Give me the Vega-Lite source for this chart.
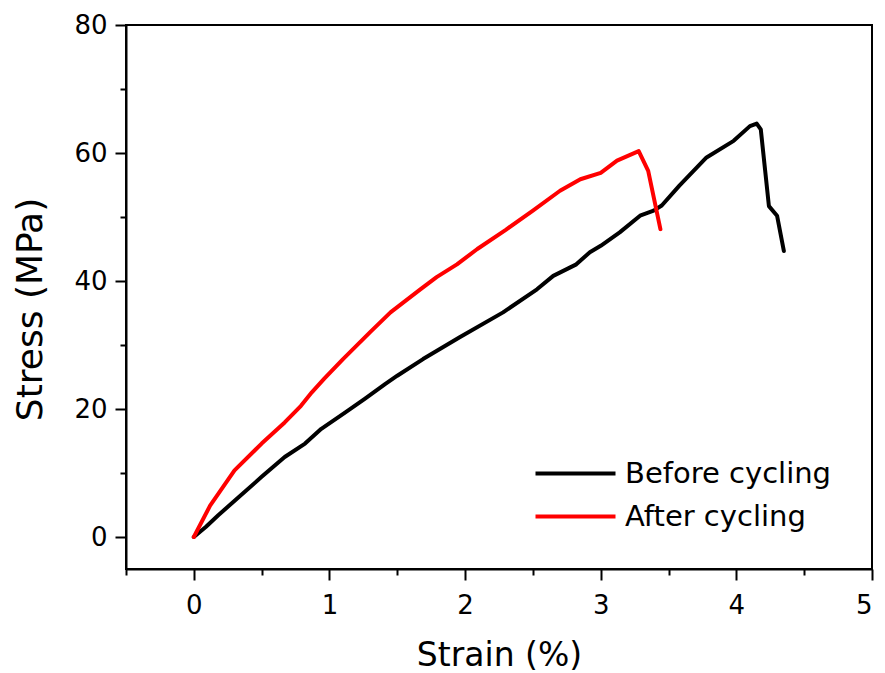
{
  "$schema": "https://vega.github.io/schema/vega-lite/v6.json",
  "width": 746,
  "height": 544,
  "autosize": {"type": "none"},
  "padding": {"left": 126, "top": 25, "right": 13, "bottom": 104},
  "background": "white",
  "data": {
    "values": [
      {"series": "Before cycling", "strain": 0.0, "stress": 0.0},
      {"series": "Before cycling", "strain": 0.09, "stress": 1.6},
      {"series": "Before cycling", "strain": 0.18, "stress": 3.4},
      {"series": "Before cycling", "strain": 0.33, "stress": 6.2},
      {"series": "Before cycling", "strain": 0.5, "stress": 9.4},
      {"series": "Before cycling", "strain": 0.67, "stress": 12.5},
      {"series": "Before cycling", "strain": 0.82, "stress": 14.6},
      {"series": "Before cycling", "strain": 0.94, "stress": 16.9},
      {"series": "Before cycling", "strain": 1.12, "stress": 19.5},
      {"series": "Before cycling", "strain": 1.26, "stress": 21.6},
      {"series": "Before cycling", "strain": 1.41, "stress": 23.9},
      {"series": "Before cycling", "strain": 1.5, "stress": 25.2},
      {"series": "Before cycling", "strain": 1.69, "stress": 27.8},
      {"series": "Before cycling", "strain": 1.96, "stress": 31.2},
      {"series": "Before cycling", "strain": 2.28, "stress": 35.1},
      {"series": "Before cycling", "strain": 2.53, "stress": 38.7},
      {"series": "Before cycling", "strain": 2.65, "stress": 40.8},
      {"series": "Before cycling", "strain": 2.82, "stress": 42.6},
      {"series": "Before cycling", "strain": 2.92, "stress": 44.5},
      {"series": "Before cycling", "strain": 3.0, "stress": 45.5},
      {"series": "Before cycling", "strain": 3.14, "stress": 47.6},
      {"series": "Before cycling", "strain": 3.29, "stress": 50.2},
      {"series": "Before cycling", "strain": 3.39, "stress": 51.0},
      {"series": "Before cycling", "strain": 3.45, "stress": 51.8},
      {"series": "Before cycling", "strain": 3.58, "stress": 54.9},
      {"series": "Before cycling", "strain": 3.78, "stress": 59.3},
      {"series": "Before cycling", "strain": 3.98, "stress": 61.9},
      {"series": "Before cycling", "strain": 4.1, "stress": 64.2},
      {"series": "Before cycling", "strain": 4.15, "stress": 64.6},
      {"series": "Before cycling", "strain": 4.18, "stress": 63.7},
      {"series": "Before cycling", "strain": 4.24, "stress": 51.7},
      {"series": "Before cycling", "strain": 4.3, "stress": 50.2},
      {"series": "Before cycling", "strain": 4.35, "stress": 44.7},
      {"series": "After cycling", "strain": 0.0, "stress": 0.0},
      {"series": "After cycling", "strain": 0.12, "stress": 4.9},
      {"series": "After cycling", "strain": 0.3, "stress": 10.4},
      {"series": "After cycling", "strain": 0.5, "stress": 14.6},
      {"series": "After cycling", "strain": 0.67, "stress": 17.9},
      {"series": "After cycling", "strain": 0.79, "stress": 20.5},
      {"series": "After cycling", "strain": 0.87, "stress": 22.6},
      {"series": "After cycling", "strain": 0.96, "stress": 24.7},
      {"series": "After cycling", "strain": 1.1, "stress": 27.8},
      {"series": "After cycling", "strain": 1.3, "stress": 32.0},
      {"series": "After cycling", "strain": 1.45, "stress": 35.1},
      {"series": "After cycling", "strain": 1.67, "stress": 38.7},
      {"series": "After cycling", "strain": 1.79, "stress": 40.6},
      {"series": "After cycling", "strain": 1.94, "stress": 42.6},
      {"series": "After cycling", "strain": 2.09, "stress": 45.0},
      {"series": "After cycling", "strain": 2.3, "stress": 48.0},
      {"series": "After cycling", "strain": 2.5, "stress": 51.0},
      {"series": "After cycling", "strain": 2.7, "stress": 54.1},
      {"series": "After cycling", "strain": 2.85, "stress": 55.9},
      {"series": "After cycling", "strain": 3.0, "stress": 56.9},
      {"series": "After cycling", "strain": 3.12, "stress": 58.8},
      {"series": "After cycling", "strain": 3.28, "stress": 60.3},
      {"series": "After cycling", "strain": 3.35, "stress": 57.2},
      {"series": "After cycling", "strain": 3.44, "stress": 48.1}
    ]
  },
  "mark": {"type": "line", "strokeWidth": 4, "strokeJoin": "round", "strokeCap": "round"},
  "encoding": {
    "x": {
      "field": "strain",
      "type": "quantitative",
      "title": "Strain (%)",
      "scale": {"domain": [-0.5, 5], "nice": false, "zero": false},
      "axis": {
        "values": [-0.5, 0, 0.5, 1, 1.5, 2, 2.5, 3, 3.5, 4, 4.5, 5],
        "labelExpr": "datum.value % 1 === 0 ? format(datum.value, 'd') : ''",
        "tickSize": {"condition": {"test": "datum.value % 1 === 0", "value": 11}, "value": 6},
        "labelPadding": 12,
        "titlePadding": 21,
        "titleFontSize": 33
      }
    },
    "y": {
      "field": "stress",
      "type": "quantitative",
      "title": "Stress (MPa)",
      "scale": {"domain": [-5, 80], "nice": false, "zero": false},
      "axis": {
        "values": [0, 10, 20, 30, 40, 50, 60, 70, 80],
        "labelExpr": "datum.value % 20 === 0 ? format(datum.value, 'd') : ''",
        "tickSize": {"condition": {"test": "datum.value % 20 === 0", "value": 11}, "value": 6},
        "labelPadding": 8,
        "titlePadding": 24,
        "titleFontSize": 36,
        "titleY": 284
      }
    },
    "color": {
      "field": "series",
      "type": "nominal",
      "sort": ["Before cycling", "After cycling"],
      "scale": {"domain": ["Before cycling", "After cycling"], "range": ["#000000", "#ff0000"]},
      "legend": {
        "title": null,
        "orient": "none",
        "legendX": 435,
        "legendY": 434,
        "padding": 0,
        "symbolType": "M-8,0H8",
        "symbolSize": 100,
        "symbolStrokeWidth": 4,
        "symbolFillColor": "transparent",
        "labelOffset": 35,
        "labelFontSize": 29,
        "labelFont": "DejaVu Sans",
        "labelColor": "#000000",
        "labelLimit": 400,
        "rowPadding": 13
      }
    }
  },
  "config": {
    "view": {"stroke": "#000000", "strokeWidth": 2},
    "axis": {
      "grid": false,
      "domainColor": "#000000",
      "domainWidth": 2,
      "tickColor": "#000000",
      "tickWidth": 2,
      "labelFont": "DejaVu Sans",
      "labelFontSize": 26,
      "labelColor": "#000000",
      "titleFont": "DejaVu Sans",
      "titleFontWeight": "normal",
      "titleColor": "#000000"
    }
  }
}
